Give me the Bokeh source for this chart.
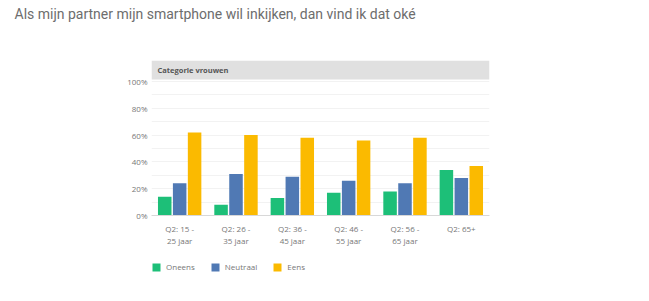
from bokeh.plotting import figure
from bokeh.models import (FactorRange, Range1d, ColumnDataSource, BoxAnnotation, Label,
                          Legend, LegendItem, FixedTicker)
from bokeh.layouts import column
from bokeh.transform import dodge
from bokeh.embed import file_html
from bokeh.resources import INLINE

title_text = "Als mijn partner mijn smartphone wil inkijken, dan vind ik dat oké"
panel_text = "Categorie vrouwen"
categories = ["Q2: 15 -\n25 jaar", "Q2: 26 -\n35 jaar", "Q2: 36 -\n45 jaar",
              "Q2: 46 -\n55 jaar", "Q2: 56 -\n65 jaar", "Q2: 65+"]
series_names = ["Oneens", "Neutraal", "Eens"]
oneens = [14, 8, 13, 17, 18, 34]
neutraal = [24, 31, 29, 26, 24, 28]
eens = [62, 60, 58, 56, 58, 37]
colors = ["#1dbf78", "#5079b4", "#fbba00"]
y_ticks = [0, 20, 40, 60, 80, 100]

src = ColumnDataSource(dict(cat=categories, Oneens=oneens, Neutraal=neutraal, Eens=eens))
offsets = [-0.265, 0, 0.265]

# --- title strip ---
t = figure(width=649, height=40, x_axis_type=None, y_axis_type=None,
           output_backend="svg", toolbar_location=None, min_border=0,
           outline_line_color=None, x_range=Range1d(0, 1), y_range=Range1d(0, 1),
           frame_align=False)
t.grid.visible = False
t.add_layout(Label(x=14, y=27, x_units="screen", y_units="screen", text=title_text,
                   text_font="Roboto", text_font_size="14px", text_color="#6d6d6d",
                   text_baseline="middle"))

# --- main chart ---
p = figure(width=649, height=208, x_range=FactorRange(*categories),
           y_range=Range1d(0, 115.7), output_backend="svg", toolbar_location=None,
           min_border_left=151, min_border_right=160, min_border_top=20,
           min_border_bottom=33, outline_line_color=None, frame_align=False)

p.add_layout(BoxAnnotation(bottom=101.5, fill_color="#e0e0e0", fill_alpha=1,
                           line_color=None, level="underlay"))

for name, off, col in zip(series_names, offsets, colors):
    p.vbar(x=dodge("cat", off, range=p.x_range), top=name, width=0.24,
           source=src, fill_color=col, line_color=None)

p.xgrid.visible = False
p.ygrid.ticker = FixedTicker(ticks=list(range(10, 101, 10)))
p.ygrid.grid_line_color = "#f2f2f2"

p.yaxis.ticker = FixedTicker(ticks=y_ticks)
p.yaxis.major_label_overrides = {tk: f"{tk}%" for tk in y_ticks}
p.yaxis.axis_line_color = None
p.yaxis.major_tick_line_color = None
p.yaxis.minor_tick_line_color = None
p.yaxis.major_tick_out = 0
p.yaxis.major_label_standoff = 4
p.yaxis.major_label_text_font = "Open Sans"
p.yaxis.major_label_text_font_size = "8px"
p.yaxis.major_label_text_color = "#777777"
p.yaxis.major_label_text_baseline = "top"

p.xaxis.axis_line_color = "#d8d8d8"
p.xaxis.major_tick_line_color = None
p.xaxis.minor_tick_line_color = None
p.xaxis.major_tick_out = 0
p.xaxis.major_label_standoff = 7
p.xaxis.major_label_text_font = "Open Sans"
p.xaxis.major_label_text_font_size = "8px"
p.xaxis.major_label_text_line_height = 1.1
p.xaxis.major_label_text_color = "#777777"

p.add_layout(Label(x=6, y=146, x_units="screen", y_units="screen", text=panel_text,
                   text_font="Open Sans", text_font_size="7.5px", text_font_style="bold",
                   text_color="#555555", text_baseline="middle"))

# --- legend strip ---
lg = figure(width=649, height=53, x_axis_type=None, y_axis_type=None,
            output_backend="svg", toolbar_location=None, min_border=0,
            outline_line_color=None, x_range=FactorRange(*categories), y_range=Range1d(0, 1),
            frame_align=False)
lg.grid.visible = False
items = []
for name, off, col in zip(series_names, offsets, colors):
    r = lg.vbar(x=dodge("cat", off, range=lg.x_range), top=name, width=0.24,
                source=src, fill_color=col, line_color=None, visible=False)
    items.append(LegendItem(label=name, renderers=[r]))
legend = Legend(items=items, orientation="horizontal", location=(151, 29),
                border_line_color=None, background_fill_alpha=0, padding=0, margin=0,
                spacing=15, glyph_width=10, glyph_height=10, label_height=10,
                label_standoff=5, label_text_font="Open Sans", label_text_font_size="8px",
                label_text_color="#777777", label_text_baseline="middle")
lg.add_layout(legend)

layout = column(t, p, lg, spacing=0)
open("out.html", "w").write(file_html(layout, INLINE))
